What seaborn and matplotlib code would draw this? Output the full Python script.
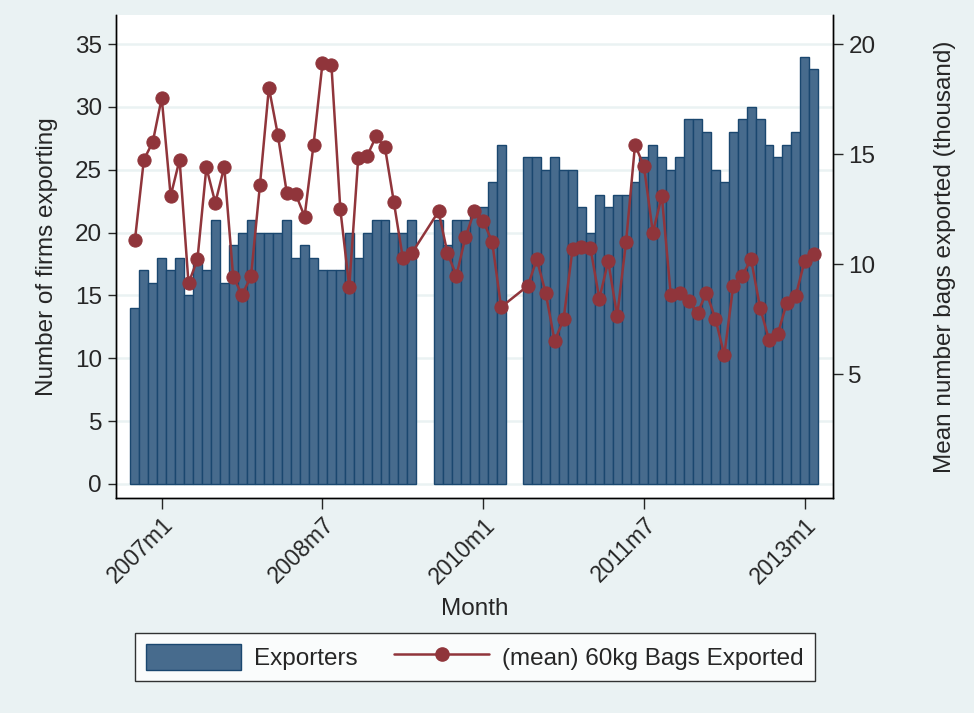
import numpy as np
import pandas as pd
import matplotlib
matplotlib.use("Agg")
import matplotlib.pyplot as plt
import seaborn as sns
from matplotlib.patches import Patch
from matplotlib.lines import Line2D

# Monthly series, 2006m10 .. 2013m2 (None = month not observed)
months = [f"{p.year}m{p.month}" for p in pd.period_range("2006-10", "2013-02", freq="M")]

exporters = [
    14, 17, 16, 18, 17, 18, 15, 18, 17, 21, 16, 19, 20,
    21, 20, 20, 20, 21, 18, 19, 18, 17, 17, 17, 20,
    18, 20, 21, 21, 20, 20, 21,
    None, None,
    21, 19, 21, 21, 22, 22, 24, 27,
    None, None,
    26, 26, 25, 26, 25, 25, 22, 20, 23, 22, 23, 23, 24,
    26, 27, 26, 25, 26, 29, 29, 28, 25, 24, 28, 29, 30, 29, 27, 26, 27, 28, 34, 33,
]

bags_thousand = [
    11.09, 14.74, 15.55, 17.55, 13.09, 14.74, 9.12, 10.21, 14.39, 12.78, 14.41, 9.42, 8.60,
    9.44, 13.60, 18.02, 15.88, 13.25, 13.18, 12.16, 15.42, 19.12, 19.06, 12.49, 8.95,
    14.80, 14.91, 15.80, 15.30, 12.80, 10.26, 10.49,
    None, None,
    12.39, 10.49, 9.47, 11.21, 12.39, 11.95, 11.02, 8.04,
    None, None,
    9.01, 10.21, 8.68, 6.50, 7.49, 10.67, 10.79, 10.75, 8.42, 10.12, 7.64, 11.02, 15.42,
    14.44, 11.43, 13.10, 8.60, 8.69, 8.33, 7.78, 8.69, 7.51, 5.87, 9.01, 9.47, 10.21,
    8.02, 6.56, 6.84, 8.24, 8.56, 10.15, 10.44,
]

tick_labels = ["2007m1", "2008m7", "2010m1", "2011m7", "2013m1"]
left_ticks = [0, 5, 10, 15, 20, 25, 30, 35]
right_ticks = [5, 10, 15, 20]

df = pd.DataFrame({
    "month": months,
    "t": np.arange(len(months)),
    "exporters": pd.to_numeric(pd.Series(exporters), errors="coerce"),
    "bags": pd.to_numeric(pd.Series(bags_thousand), errors="coerce"),
})
tick_pos = [months.index(m) for m in tick_labels]

BG = "#eaf2f3"
BAR_FILL = "#476b8d"
BAR_EDGE = "#1a476f"
LINE = "#90353b"
FS = 17.5

sns.set_style("white")
plt.rcParams["font.family"] = ["Liberation Sans", "DejaVu Sans"]
plt.rcParams["axes.linewidth"] = 1.0

fig = plt.figure(figsize=(9.74, 7.13), dpi=100, facecolor=BG)
ax = fig.add_axes([116 / 974, 1 - 498 / 713, (833 - 116) / 974, (498 - 15) / 713])
ax.set_facecolor("white")

bars = df.dropna(subset=["exporters"])
sns.barplot(data=bars, x="t", y="exporters", native_scale=True, width=1.0,
            color=BAR_FILL, edgecolor=BAR_EDGE, linewidth=1.0, saturation=1,
            errorbar=None, ax=ax)

ax2 = ax.twinx()
line = df.dropna(subset=["bags"])
sns.lineplot(data=line, x="t", y="bags", color=LINE, linewidth=1.8,
             marker="o", markersize=9.5, markeredgecolor=LINE, markerfacecolor=LINE,
             ax=ax2, legend=False)

# left axis 0..35 and right axis 0..20 share the same vertical span
lo, hi = -1.114, 37.31
ax.set_ylim(lo, hi)
ax2.set_ylim(lo * 20 / 35, hi * 20 / 35)
ax.set_xlim(-2.12, 78.17)

ax.set_yticks(left_ticks)
ax.set_yticklabels([str(v) for v in left_ticks], fontsize=FS)
ax2.set_yticks(right_ticks)
ax2.set_yticklabels([str(v) for v in right_ticks], fontsize=FS)

ax.set_xticks(tick_pos)
ax.set_xticklabels(tick_labels, rotation=45, ha="right", rotation_mode="anchor", fontsize=16.5)

ax.yaxis.grid(True, color=BG, linewidth=1.8)
ax.xaxis.grid(False)
ax.set_axisbelow(True)

for a in (ax, ax2):
    a.spines["top"].set_visible(False)
    for s in ("left", "right", "bottom"):
        a.spines[s].set_color("black")
        a.spines[s].set_linewidth(1.0)

ax.tick_params(axis="y", direction="out", length=6, width=1, pad=4, left=True, labelsize=FS)
ax.tick_params(axis="x", direction="out", length=8, width=1, pad=3, bottom=True, labelsize=16.5)
ax2.tick_params(axis="y", direction="out", length=7, width=1, pad=4, right=True, labelsize=FS)

ax.set_xlabel("Month", fontsize=FS, labelpad=7)
ax.set_ylabel("Number of firms exporting", fontsize=FS, labelpad=12)
ax2.set_ylabel("Mean number bags exported (thousand)", fontsize=FS, labelpad=42)

handles = [
    Patch(facecolor=BAR_FILL, edgecolor=BAR_EDGE, linewidth=1.0),
    Line2D([], [], color=LINE, linewidth=1.8, marker="o", markersize=9.5,
           markerfacecolor=LINE, markeredgecolor=LINE),
]
leg = fig.legend(handles, ["Exporters", "(mean) 60kg Bags Exported"], ncol=2,
                 loc="center", bbox_to_anchor=(475 / 974, 1 - 657 / 713),
                 fontsize=FS, frameon=True, fancybox=False, edgecolor="black",
                 handlelength=3.9, handleheight=1.3, handletextpad=0.55,
                 columnspacing=1.5, borderpad=0.45, borderaxespad=0)
leg.get_frame().set_linewidth(1.0)
leg.get_frame().set_facecolor("white")

fig.savefig("out.png", dpi=100, facecolor=BG)
